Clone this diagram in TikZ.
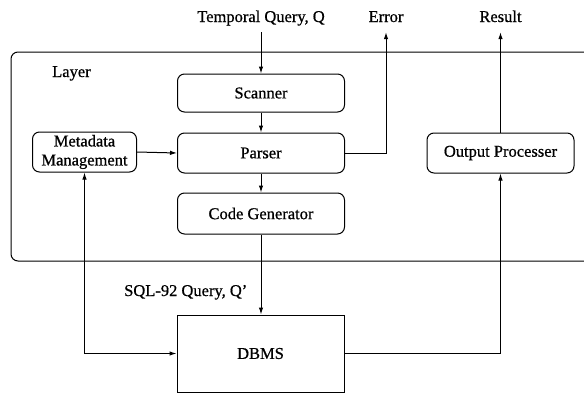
\documentclass[tikz,border=0pt]{standalone}
\usepackage{fontspec}
\setmainfont{Liberation Serif}[FakeBold=0.7]
\usetikzlibrary{arrows.meta}
\begin{document}
\begin{tikzpicture}[x=1pt,y=-1pt,
  every node/.style={font=\fontsize{16.5}{19}\selectfont},
  proc/.style={draw, rounded corners=7pt, line width=1pt, minimum width=167pt,
    minimum height=40pt, inner sep=0pt, align=center},
  dbbox/.style={draw, line width=1pt, inner sep=0pt},
  toplabel/.style={anchor=base, text depth=4pt, inner xsep=2pt, inner ysep=6pt},
  flow/.style={line width=1pt, -{Latex[length=7pt,width=4.5pt]}},
  twoway/.style={line width=1pt, {Latex[length=7pt,width=4.5pt]}-{Latex[length=7pt,width=4.5pt]}}]
\useasboundingbox (0,0) rectangle (584,394);

% enclosing layer, open to the right
\draw[line width=1pt, rounded corners=7pt] (600,52) -- (11,52) -- (11,261) -- (600,261);
\node[anchor=base west, inner sep=0pt] (layer) at (52,77) {Layer};

% input / output labels
\node[toplabel] (tq)  at (261,22) {Temporal Query, Q};
\node[toplabel] (err) at (386,22) {Error};
\node[toplabel] (res) at (500.5,22) {Result};

% processing stages
\node[proc, minimum height=38pt] (scan) at (261,93) {Scanner};
\node[proc] (parse) at (261,153) {Parser};
\node[proc, minimum height=41pt] (cg) at (261,213.5) {Code Generator};
\node[proc, minimum width=104pt] (meta) at (84.5,152) {Metadata\\Management};
\node[proc, minimum width=147pt] (out) at (500.5,153) {Output Processer};
\node[dbbox, minimum width=167pt, minimum height=77pt] (dbms) at (260.5,353.5) {DBMS};
\node[anchor=base west, inner sep=0pt] (sql) at (124,296) {SQL-92 Query, Q'};

% connectors
\draw[flow] (tq.south) -- (scan.north);
\draw[flow] (scan.south) -- (parse.north);
\draw[flow] (parse.south) -- (cg.north);
\draw[flow] (meta.east) -- (parse.west);
\draw[flow] (parse.east) -| (err.south);
\draw[flow] (out.north) -- (res.south);
\draw[flow] (cg.south) -- (cg.south |- dbms.north);
\draw[flow] (dbms.east) -| (out.south);
\draw[twoway] (meta.south) |- (dbms.west);
\end{tikzpicture}
\end{document}
